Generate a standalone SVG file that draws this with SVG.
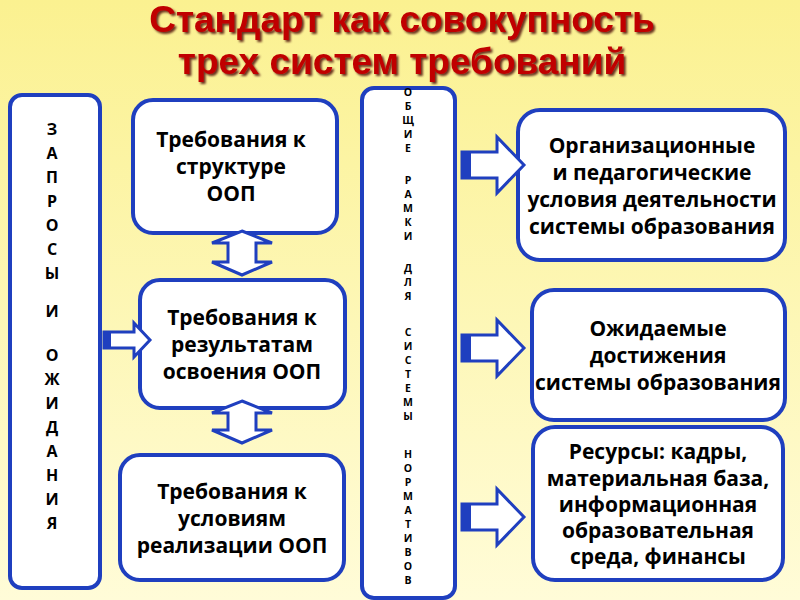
<svg xmlns="http://www.w3.org/2000/svg" width="800" height="600" viewBox="0 0 800 600">
<defs>
<linearGradient id="bg" x1="0" y1="0" x2="0" y2="1"><stop offset="0" stop-color="#fbf190"/><stop offset="1" stop-color="#fffcd8"/></linearGradient>
<filter id="sh"><feDropShadow dx="2" dy="2" stdDeviation="1" flood-color="#400" flood-opacity="0.8"/></filter>
</defs>
<style>
.box{fill:#fff;stroke:#1f3fbf;stroke-width:4}
.t{font-family:"Open Sans","DejaVu Sans",sans-serif;font-weight:bold;font-size:21px;fill:#000;text-anchor:middle}
.v{font-family:"Open Sans",sans-serif;font-weight:bold;font-size:16px;fill:#000;text-anchor:middle}
.vs{font-family:"Open Sans",sans-serif;font-weight:bold;font-size:10.5px;fill:#000;text-anchor:middle}
.ar{fill:#fff;stroke:#1f3fbf;stroke-width:3;stroke-linejoin:miter}
.tail{fill:#1f3fbf}
.ttl{font-family:"Liberation Sans",Arial,sans-serif;font-weight:bold;font-size:37px;fill:#c00000;text-anchor:middle}
</style>
<rect width="800" height="600" fill="url(#bg)"/>
<g filter="url(#sh)"><text class="ttl" x="402" y="32">Стандарт как совокупность</text><text class="ttl" x="402" y="74">трех систем требований</text></g>
<g id="zaprosy"><rect class="box" x="10" y="95" width="90" height="493" rx="12"/>
<text class="v"><tspan x="52" y="135">З</tspan><tspan x="52" y="159">А</tspan><tspan x="52" y="183">П</tspan><tspan x="52" y="207">Р</tspan><tspan x="52" y="231">О</tspan><tspan x="52" y="255">С</tspan><tspan x="52" y="279">Ы</tspan><tspan x="52" y="317">И</tspan><tspan x="52" y="361">О</tspan><tspan x="52" y="385">Ж</tspan><tspan x="52" y="409">И</tspan><tspan x="52" y="433">Д</tspan><tspan x="52" y="457">А</tspan><tspan x="52" y="481">Н</tspan><tspan x="52" y="505">И</tspan><tspan x="52" y="529">Я</tspan></text></g>
<g id="b1"><rect class="box" x="133" y="100" width="204" height="133" rx="20"/><text class="t"><tspan x="231" y="147">Требования к</tspan><tspan x="231" y="174">структуре</tspan><tspan x="231" y="201">ООП</tspan></text></g>
<g id="b2"><rect class="box" x="140" y="280" width="205" height="128" rx="20"/><text class="t"><tspan x="242" y="325">Требования к</tspan><tspan x="242" y="352">результатам</tspan><tspan x="242" y="379">освоения ООП</tspan></text></g>
<g id="b3"><rect class="box" x="120" y="455" width="224" height="125" rx="20"/><text class="t"><tspan x="232" y="499">Требования к</tspan><tspan x="232" y="526">условиям</tspan><tspan x="232" y="553">реализации ООП</tspan></text></g>
<g id="mid"><rect class="box" x="362" y="88" width="93" height="510" rx="12"/>
<text class="vs"><tspan x="408" y="96">О</tspan><tspan x="408" y="110">Б</tspan><tspan x="408" y="124">Щ</tspan><tspan x="408" y="138">И</tspan><tspan x="408" y="152">Е</tspan><tspan x="408" y="184">Р</tspan><tspan x="408" y="198">А</tspan><tspan x="408" y="212">М</tspan><tspan x="408" y="226">К</tspan><tspan x="408" y="240">И</tspan><tspan x="408" y="272">Д</tspan><tspan x="408" y="286">Л</tspan><tspan x="408" y="300">Я</tspan><tspan x="408" y="336">С</tspan><tspan x="408" y="350">И</tspan><tspan x="408" y="364">С</tspan><tspan x="408" y="378">Т</tspan><tspan x="408" y="392">Е</tspan><tspan x="408" y="406">М</tspan><tspan x="408" y="420">Ы</tspan><tspan x="408" y="458">Н</tspan><tspan x="408" y="472">О</tspan><tspan x="408" y="486">Р</tspan><tspan x="408" y="500">М</tspan><tspan x="408" y="514">А</tspan><tspan x="408" y="528">Т</tspan><tspan x="408" y="542">И</tspan><tspan x="408" y="556">В</tspan><tspan x="408" y="570">О</tspan><tspan x="408" y="584">В</tspan></text></g>
<g id="r1"><rect class="box" x="518" y="110" width="267" height="150" rx="22"/><text class="t"><tspan x="652" y="153">Организационные</tspan><tspan x="652" y="180">и педагогические</tspan><tspan x="652" y="207">условия деятельности</tspan><tspan x="652" y="234">системы образования</tspan></text></g>
<g id="r2"><rect class="box" x="532" y="290" width="253" height="130" rx="22"/><text class="t"><tspan x="658" y="336">Ожидаемые</tspan><tspan x="658" y="363">достижения</tspan><tspan x="658" y="390">системы образования</tspan></text></g>
<g id="r3"><rect class="box" x="533" y="427" width="250" height="153" rx="22"/><text class="t"><tspan x="658" y="459">Ресурсы: кадры,</tspan><tspan x="658" y="486">материальная база,</tspan><tspan x="658" y="512">информационная</tspan><tspan x="658" y="538">образовательная</tspan><tspan x="658" y="564">среда, финансы</tspan></text></g>
<g id="connectors">
<g transform="translate(462,165)"><path class="ar" d="M0,-13 H35 V-28 L62,0 L35,28 V13 H0 Z"/><rect class="tail" x="0" y="-13" width="9" height="26"/></g>
<g transform="translate(462,348)"><path class="ar" d="M0,-13 H35 V-28 L62,0 L35,28 V13 H0 Z"/><rect class="tail" x="0" y="-13" width="9" height="26"/></g>
<g transform="translate(462,517)"><path class="ar" d="M0,-13 H35 V-28 L62,0 L35,28 V13 H0 Z"/><rect class="tail" x="0" y="-13" width="9" height="26"/></g>
<g transform="translate(104,340)"><path class="ar" d="M0,-8 H30 V-17 L46,0 L30,17 V8 H0 Z"/><rect class="tail" x="0" y="-8" width="7" height="16"/></g>
<path class="ar" d="M242,231 L272,243 H256 V262 H272 L242,275 L212,262 H228 V243 H212 Z"/>
<path class="ar" d="M242,401 L272,413 H256 V430 H272 L242,443 L212,430 H228 V413 H212 Z"/>
</g>
</svg>
